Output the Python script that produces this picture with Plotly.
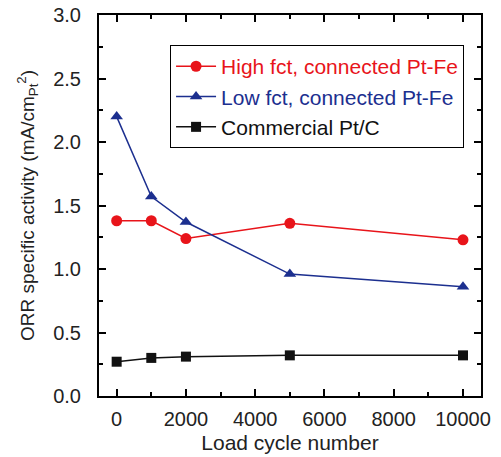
import plotly.graph_objects as go

cycles = [0, 1000, 2000, 5000, 10000]
high_fct = [1.38, 1.38, 1.24, 1.36, 1.23]
low_fct = [2.20, 1.57, 1.37, 0.96, 0.86]
commercial = [0.27, 0.30, 0.31, 0.32, 0.32]

names = ["High fct, connected Pt-Fe", "Low fct, connected Pt-Fe", "Commercial Pt/C"]
colors = ["#e8141a", "#1c2f8f", "#111111"]
symbols = ["circle", "triangle-up", "square"]
sizes = [11, 11, 10]

fig = go.Figure()
for ys, nm, c, s, sz in zip([high_fct, low_fct, commercial], names, colors, symbols, sizes):
    fig.add_trace(go.Scatter(
        x=cycles, y=ys, mode="lines+markers",
        name=f"<span style='color:{c}'>{nm}</span>",
        line=dict(color=c, width=1.5),
        marker=dict(symbol=s, size=sz, color=c),
    ))

axis_common = dict(
    showline=True, linecolor="black", linewidth=2, mirror="allticks",
    ticks="inside", ticklen=7, tickwidth=1.5, tickcolor="black",
    showgrid=False, zeroline=False, automargin=False,
    tickfont=dict(size=20, color="#222"),
)

fig.update_layout(
    width=501, height=457,
    margin=dict(l=99, r=20, t=15, b=61),
    paper_bgcolor="white", plot_bgcolor="white",
    font=dict(family="Liberation Sans, Arial, sans-serif", color="#222"),
    xaxis=dict(range=[-510, 10520], dtick=2000, tick0=0, tickformat="d",
               ticklabelstandoff=4,
               minor=dict(ticks="inside", dtick=1000, ticklen=4, tickcolor="black", tickwidth=1.5),
               title=dict(text="Load cycle number", font=dict(size=21), standoff=6),
               **axis_common),
    yaxis=dict(range=[0, 3.0], dtick=0.5, tickformat=".1f",
               ticklabelstandoff=12,
               minor=dict(ticks="inside", dtick=0.25, ticklen=4, tickcolor="black", tickwidth=1.5),
               title=dict(text="ORR specific activity (mA/cm<sub>Pt</sub><sup>2</sup>)", font=dict(size=19), standoff=14),
               **axis_common),
    legend=dict(x=0.186, y=0.921, xanchor="left", yanchor="top",
                bordercolor="black", borderwidth=1, bgcolor="white",
                font=dict(size=21), tracegroupgap=0, itemwidth=40),
    showlegend=True,
)

# remove the default 8px page margin so the figure sits at the window's top-left corner
fig.write_html("out.html", config={"displayModeBar": False},
               post_script="document.body.style.margin='0';")
